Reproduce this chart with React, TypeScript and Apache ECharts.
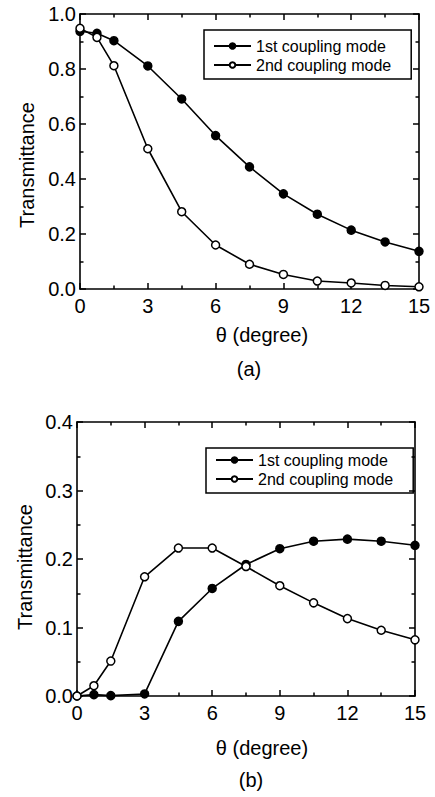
import React, { useEffect, useRef } from "react";
import * as echarts from "echarts";

const thetaA = [0, 0.75, 1.5, 3, 4.5, 6, 7.5, 9, 10.5, 12, 13.5, 15];
const firstA = [0.937, 0.93, 0.903, 0.811, 0.691, 0.558, 0.444, 0.346, 0.272, 0.214, 0.171, 0.137];
const secondA = [0.948, 0.915, 0.812, 0.51, 0.281, 0.16, 0.09, 0.053, 0.029, 0.022, 0.013, 0.008];

const thetaB = [0, 0.75, 1.5, 3, 4.5, 6, 7.5, 9, 10.5, 12, 13.5, 15];
const firstB = [0, 0.002, 0.0005, 0.003, 0.109, 0.157, 0.192, 0.215, 0.226, 0.229, 0.226, 0.22];
const secondB = [0, 0.015, 0.051, 0.174, 0.216, 0.216, 0.189, 0.161, 0.136, 0.113, 0.096, 0.082];

const seriesNames = ["1st coupling mode", "2nd coupling mode"];
const xLabel = "θ (degree)";
const yLabel = "Transmittance";
const panelLabels = ["(a)", "(b)"];

const FONT = "'Liberation Sans', Arial, sans-serif";

export default function App() {
  const ref = useRef<HTMLDivElement>(null);
  useEffect(() => {
    document.body.style.margin = "0";
    if (!ref.current) return;
    const chart = echarts.init(ref.current, null, { renderer: "svg" });

    const axisLine = { show: true, onZero: false, lineStyle: { color: "#000", width: 1.6 } };
    const tick = { show: true, inside: true, length: 6, lineStyle: { color: "#000", width: 1.5 } };
    const minor = { show: true, splitNumber: 2, length: 3.5, lineStyle: { color: "#000", width: 1.5 } };
    const label = { color: "#000", fontSize: 20, fontFamily: FONT };

    const xAxisFor = (gridIndex: number, pos: "bottom" | "top") => ({
      type: "value",
      gridIndex,
      position: pos,
      min: 0,
      max: 15,
      interval: 3,
      axisLine,
      axisTick: tick,
      minorTick: minor,
      splitLine: { show: false },
      axisLabel: pos === "bottom" ? { ...label, margin: 7 } : { show: false },
    });
    const yAxisFor = (gridIndex: number, pos: "left" | "right", max: number, interval: number) => ({
      type: "value",
      gridIndex,
      position: pos,
      min: 0,
      max,
      interval,
      axisLine,
      axisTick: tick,
      minorTick: minor,
      splitLine: { show: false },
      axisLabel:
        pos === "left"
          ? { ...label, margin: 4, formatter: (v: number) => v.toFixed(1) }
          : { show: false },
    });

    const lineSeries = (name: string, xs: number[], ys: number[], idx: number, filled: boolean) => ({
      name,
      type: "line",
      xAxisIndex: idx * 2,
      yAxisIndex: idx * 2,
      data: xs.map((x, i) => [x, ys[i]]),
      symbol: "circle",
      symbolSize: 8,
      showSymbol: true,
      lineStyle: { color: "#000", width: 1.6 },
      itemStyle: { color: filled ? "#000" : "#fff", borderColor: "#000", borderWidth: 1.5 },
      z: filled ? 3 : 4,
    });

    const legendFor = (left: number, top: number, padTop: number) => ({
      orient: "vertical",
      left,
      top,
      data: seriesNames,
      itemWidth: 37,
      itemHeight: 7,
      itemGap: 3,
      padding: [padTop, 20, 6, 9],
      borderColor: "#000",
      borderWidth: 1.5,
      selectedMode: false,
      textStyle: { color: "#000", fontSize: 16, fontFamily: FONT },
    });

    const txt = (text: string, x: number, y: number, rotation = 0) => ({
      type: "text",
      x,
      y,
      rotation,
      style: {
        text,
        fill: "#000",
        fontSize: 20,
        fontFamily: FONT,
        textAlign: "center",
        textVerticalAlign: "middle",
      },
    });

    chart.setOption({
      animation: false,
      backgroundColor: "#fff",
      grid: [
        { left: 80, top: 14, width: 339, height: 275 },
        { left: 77, top: 422, width: 338, height: 274 },
      ],
      xAxis: [xAxisFor(0, "bottom"), xAxisFor(0, "top"), xAxisFor(1, "bottom"), xAxisFor(1, "top")],
      yAxis: [
        yAxisFor(0, "left", 1.0, 0.2),
        yAxisFor(0, "right", 1.0, 0.2),
        yAxisFor(1, "left", 0.4, 0.1),
        yAxisFor(1, "right", 0.4, 0.1),
      ],
      legend: [legendFor(204, 30, 8), legendFor(206, 448, 4)],
      series: [
        lineSeries(seriesNames[0], thetaA, firstA, 0, true),
        lineSeries(seriesNames[1], thetaA, secondA, 0, false),
        lineSeries(seriesNames[0], thetaB, firstB, 1, true),
        lineSeries(seriesNames[1], thetaB, secondB, 1, false),
      ],
      graphic: [
        txt(yLabel, 27, 165, Math.PI / 2),
        txt(xLabel, 262, 335),
        txt(panelLabels[0], 249, 369),
        txt(yLabel, 25, 567, Math.PI / 2),
        txt(xLabel, 262, 748),
        txt(panelLabels[1], 251, 780),
      ],
    });
    return () => chart.dispose();
  }, []);
  return <div ref={ref} style={{ width: 435, height: 797 }} />;
}
